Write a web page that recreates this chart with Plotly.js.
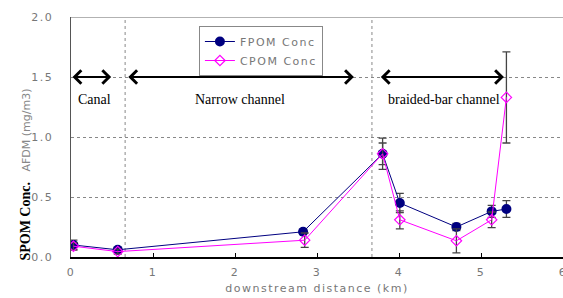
<!DOCTYPE html>
<html><head><meta charset="utf-8">
<script src="https://cdn.plot.ly/plotly-3.0.1.min.js"></script>
<style>
body{margin:0;padding:0;background:#fff}
#chart{width:563px;height:298px}
.xtick text,.ytick text,.g-xtitle text,.legendtext{letter-spacing:1.5px}
</style></head>
<body><div id="chart"></div>
<script>
// data
var fpomX = [0.03, 0.57, 2.83, 3.80, 4.01, 4.70, 5.13, 5.31];
var fpomY = [0.10, 0.06, 0.21, 0.86, 0.45, 0.25, 0.38, 0.40];
var fpomErr = [0.04, 0.02, 0.02, 0.13, 0.08, 0.03, 0.05, 0.07];
var cpomX = [0.03, 0.57, 2.85, 3.80, 4.01, 4.70, 5.13, 5.31];
var cpomY = [0.09, 0.045, 0.14, 0.86, 0.31, 0.135, 0.31, 1.33];
var cpomErr = [0.03, 0.02, 0.06, 0.09, 0.075, 0.10, 0.065, 0.38];
var seriesNames = ['FPOM Conc', 'CPOM Conc'];
var sectionNames = ['Canal', 'Narrow channel', 'braided-bar channel'];
var sectionLabelX = [0.29, 2.06, 4.55];
var sectionStart = [0, 0.68, 3.76];
var sectionEnd = [0.49, 3.45, 5.28];
var dividerX = [0.66, 3.67];

var traces = [
  {x: fpomX, y: fpomY, name: seriesNames[0], type: 'scatter', mode: 'lines+markers',
   line: {color: '#000080', width: 1},
   marker: {symbol: 'circle', size: 10, color: '#000080'},
   error_y: {type: 'data', array: fpomErr, visible: true, color: '#444', thickness: 1.3, width: 4}},
  {x: cpomX, y: cpomY, name: seriesNames[1], type: 'scatter', mode: 'lines+markers',
   line: {color: '#ff00ff', width: 1},
   marker: {symbol: 'diamond-open', size: 8, color: '#ff00ff', line: {width: 1.2}},
   error_y: {type: 'data', array: cpomErr, visible: true, color: '#444', thickness: 1.3, width: 4}}
];

var shapes = [];
dividerX.forEach(function(v){
  shapes.push({type:'line', xref:'x', yref:'y', x0:v, x1:v, y0:0, y1:2,
    line:{color:'#888', width:1, dash:'dot'}, layer:'below'});
});
shapes.push({type:'line', xref:'paper', yref:'y', x0:0, x1:1, y0:2, y1:2,
  line:{color:'#999', width:1.5}});

var annotations = [];
for (var i = 0; i < sectionNames.length; i++) {
  annotations.push({x: sectionEnd[i], y: 1.5, ax: sectionStart[i], ay: 1.5,
    xref:'x', yref:'y', axref:'x', ayref:'y', text:'', showarrow:true,
    arrowhead:4, startarrowhead:4, arrowside:'end+start', arrowsize:1.3, startarrowsize:1.3,
    arrowwidth:2, arrowcolor:'#000'});
  annotations.push({x: sectionLabelX[i], y: 1.315, xref:'x', yref:'y', text: sectionNames[i],
    showarrow:false, font:{family:'Liberation Serif', size:14, color:'#000'}});
}
annotations.push({xref:'paper', yref:'paper', x:-0.112, y:0.345, textangle:-90, showarrow:false,
  text:'<b>SPOM Conc.</b>   <span style="color:#888;font-family:DejaVu Sans;font-size:11px">AFDM (mg/m3)</span>',
  font:{family:'Liberation Serif', size:14, color:'#000'}});

var layout = {
  width:563, height:298,
  margin:{l:71, r:0, t:17, b:41},
  paper_bgcolor:'#fff', plot_bgcolor:'#fff',
  showlegend:true,
  legend:{x:0.26, y:0.9625, xanchor:'left', yanchor:'top', bgcolor:'#fff',
    bordercolor:'#888', borderwidth:1, font:{family:'DejaVu Sans', size:11, color:'#777'},
    tracegroupgap:0, itemwidth:30},
  xaxis:{range:[0,6], dtick:1, tick0:0, showgrid:false, zeroline:false,
    showline:true, linecolor:'#000', linewidth:1.5, ticks:'inside', ticklen:4, tickcolor:'#000',
    ticklabeloverflow:'allow',
    tickfont:{family:'DejaVu Sans', size:11, color:'#777'}, ticklabelstandoff:4,
    title:{text:'downstream distance (km)', font:{family:'DejaVu Sans', size:11, color:'#777'}, standoff:6}},
  yaxis:{range:[0,2], dtick:0.5, tick0:0, tickformat:'.1f', showgrid:true, gridcolor:'#888',
    griddash:'dot', gridwidth:1, zeroline:false,
    showline:true, linecolor:'#555', linewidth:1.5, ticks:'',
    tickfont:{family:'DejaVu Sans', size:11, color:'#777'}, ticklabelstandoff:14},
  shapes:shapes,
  annotations:annotations
};
Plotly.newPlot('chart', traces, layout, {displayModeBar:false, staticPlot:true});
</script></body></html>
